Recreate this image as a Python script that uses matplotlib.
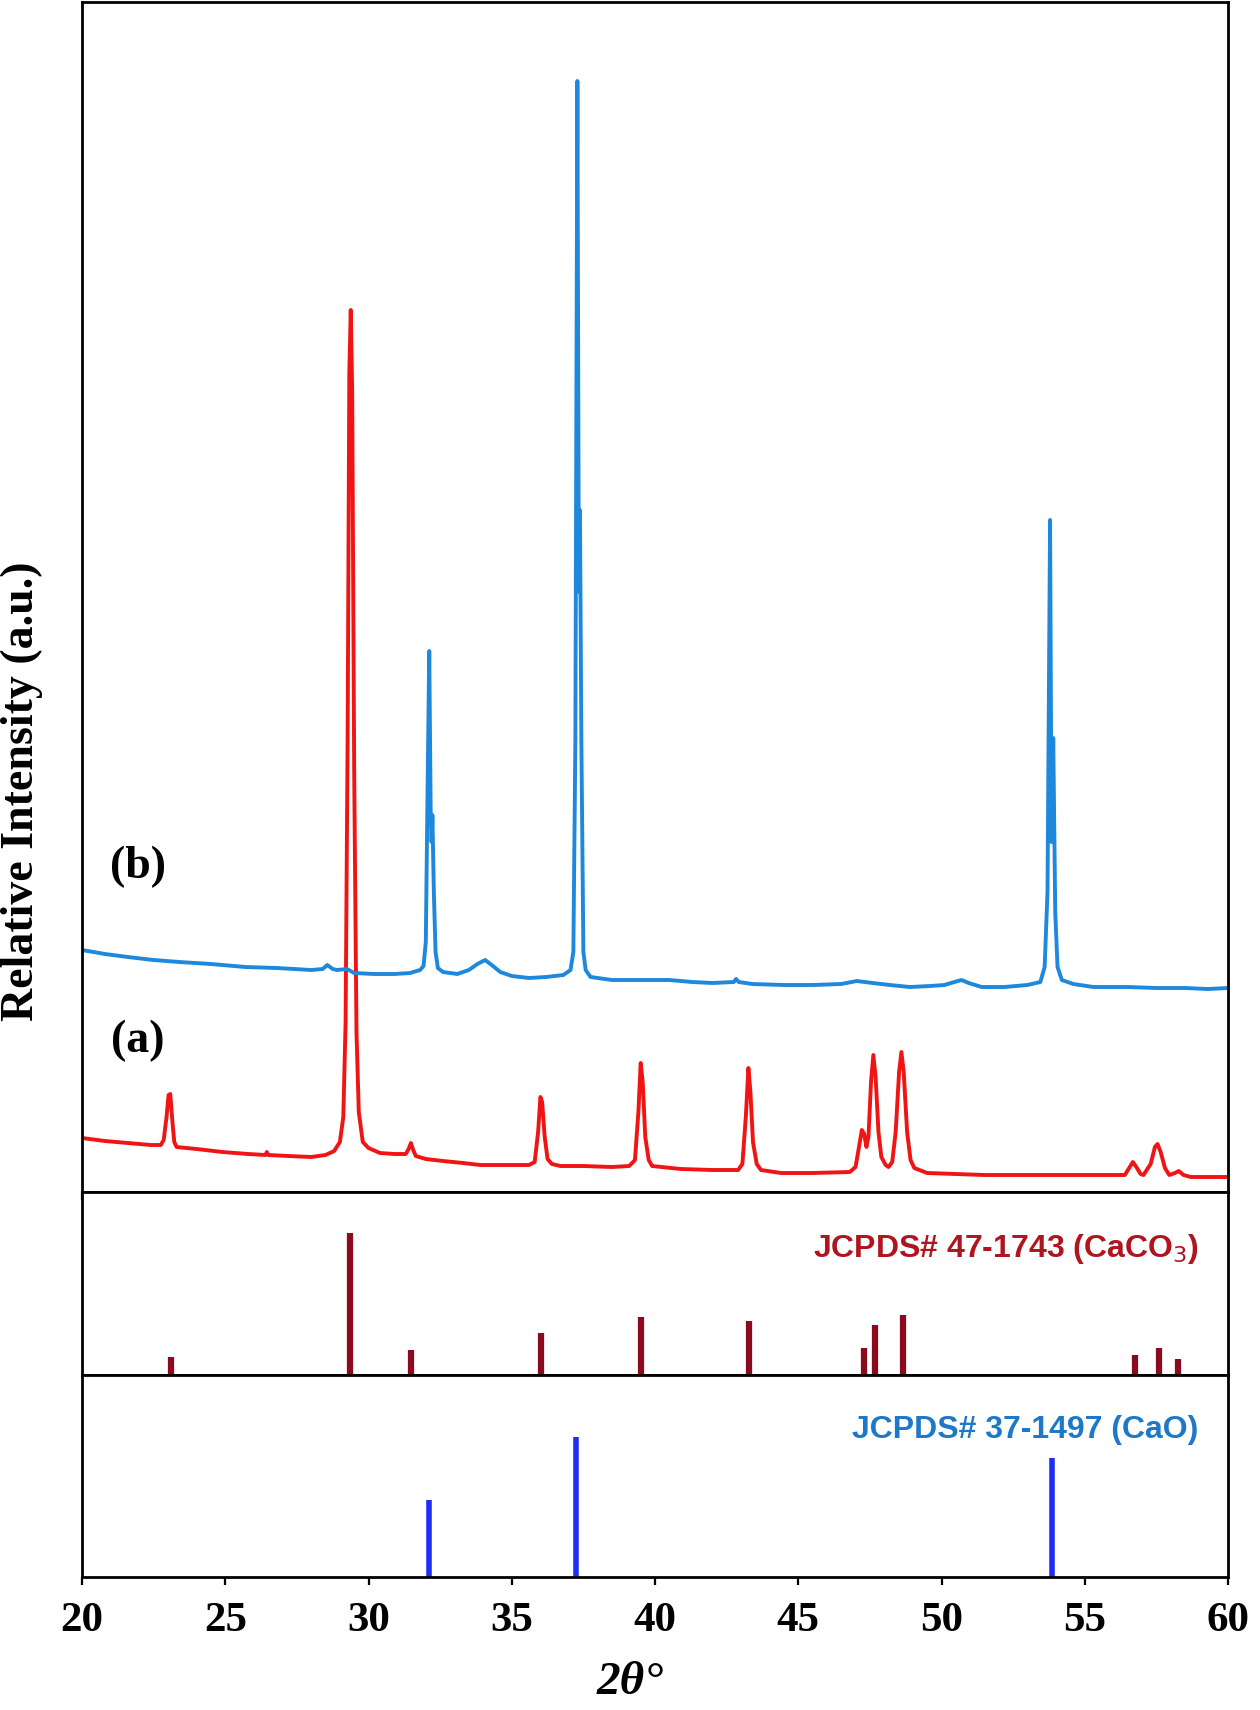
import matplotlib
matplotlib.use("Agg")
import matplotlib.pyplot as plt
from matplotlib import font_manager

# sample (a): CaCO3 pattern (2theta, intensity a.u.)
a_tt = [20.0, 20.8, 21.6, 22.4, 22.75, 22.85, 22.95, 23.02, 23.08, 23.15, 23.22, 23.3,
        24.0, 24.9, 25.8, 26.4, 26.45, 26.5, 27.2, 28.0, 28.5, 28.8, 29.0, 29.12,
        29.2, 29.27, 29.33, 29.38, 29.43, 29.5, 29.58, 29.66, 29.8, 30.0, 30.4, 30.9,
        31.3, 31.4, 31.48, 31.56, 31.65, 32.0, 32.6, 33.3, 33.9, 34.8, 35.6, 35.8,
        35.92, 36.0, 36.06, 36.15, 36.25, 36.4, 36.7, 37.5, 38.5, 39.1, 39.3, 39.42,
        39.5, 39.57, 39.66, 39.78, 39.9, 40.9, 42.0, 42.9, 43.05, 43.17, 43.26, 43.33,
        43.42, 43.55, 43.7, 44.4, 45.5, 46.8, 47.0, 47.12, 47.22, 47.3, 47.38, 47.45,
        47.54, 47.62, 47.7, 47.8, 47.9, 48.05, 48.15, 48.28, 48.4, 48.52, 48.6, 48.68,
        48.8, 48.92, 49.05, 49.5, 50.5, 51.5, 52.7, 54.0, 55.2, 56.4, 56.55, 56.68,
        56.8, 56.95, 57.05, 57.3, 57.45, 57.54, 57.65, 57.8, 57.95, 58.15, 58.28, 58.45,
        58.7, 59.4, 60.0]
a_int = [54, 51, 49, 47, 47, 52, 75, 97, 98, 72, 50, 45,
         43, 40, 38, 37, 40, 37, 36, 35, 37, 41, 50, 75,
         170, 450, 820, 882, 800, 420, 160, 80, 50, 44, 39, 38,
         38, 43, 49, 42, 36, 33, 31, 29, 27, 27, 27, 30,
         60, 95, 90, 55, 33, 28, 26, 26, 25, 26, 32, 80,
         129, 110, 55, 32, 26, 23, 22, 22, 28, 75, 124, 100,
         50, 28, 22, 19, 19, 20, 25, 45, 62, 58, 45, 55,
         110, 137, 115, 60, 35, 27, 25, 30, 60, 120, 140, 120,
         60, 32, 24, 19, 18, 17, 17, 17, 17, 17, 24, 30,
         25, 18, 17, 28, 45, 48, 40, 24, 17, 19, 21, 17,
         15, 15, 15]

# sample (b): CaO pattern
b_tt = [20.0, 20.8, 21.6, 22.5, 23.4, 24.5, 25.7, 26.8, 28.0, 28.4, 28.56, 28.75,
        28.9, 29.25, 29.5, 30.2, 30.9, 31.45, 31.8, 31.92, 32.0, 32.06, 32.12, 32.17,
        32.2, 32.23, 32.28, 32.34, 32.42, 32.6, 33.1, 33.5, 33.8, 34.07, 34.3, 34.6,
        35.0, 35.6, 36.2, 36.8, 37.05, 37.15, 37.22, 37.29, 37.34, 37.36, 37.38, 37.43,
        37.5, 37.58, 37.75, 38.5, 39.5, 40.5, 41.3, 42.0, 42.75, 42.83, 42.92, 43.4,
        44.5, 45.5, 46.5, 47.04, 47.6, 48.2, 48.9, 49.6, 50.1, 50.45, 50.7, 50.95,
        51.4, 52.2, 53.0, 53.45, 53.6, 53.7, 53.79, 53.84, 53.9, 53.97, 54.05, 54.2,
        54.6, 55.3, 56.5, 57.5, 58.5, 59.3, 60.0]
b_int = [242, 238, 235, 232, 230, 228, 225, 224, 222, 223, 227, 223,
         222, 223, 219, 218, 218, 219, 222, 226, 250, 400, 541, 380,
         350, 377, 300, 240, 224, 220, 218, 222, 228, 232, 227, 220,
         216, 214, 215, 217, 222, 240, 450, 1111, 620, 600, 682, 450,
         240, 222, 215, 212, 212, 212, 210, 209, 210, 213, 210, 208,
         207, 207, 208, 211, 209, 207, 205, 206, 207, 210, 212, 209,
         205, 205, 207, 210, 225, 300, 672, 350, 454, 280, 225, 212,
         208, 205, 205, 204, 204, 203, 204]

# reference cards
caco3_pos = [23.12, 29.37, 31.47, 36.02, 39.52, 43.28, 47.28, 47.67, 48.67, 56.74, 57.58, 58.27]
caco3_rel = [12.7, 100, 18, 30, 40.7, 38.4, 19.4, 35.5, 42.1, 14, 19.4, 11.4]
cao_pos = [32.12, 37.25, 53.86]
cao_rel = [55.2, 100, 85.1]

xticks = [20, 25, 30, 35, 40, 45, 50, 55, 60]

serif = ["Liberation Serif", "DejaVu Serif"]
names = {f.name for f in font_manager.fontManager.ttflist}
narrow = "Liberation Sans Narrow" if "Liberation Sans Narrow" in names else "Liberation Sans"

fig = plt.figure(figsize=(12.6, 17.1), dpi=100)
L, W = 0.0651, 0.9095
ax = fig.add_axes([L, 0.30292, W, 0.69591])
ax1 = fig.add_axes([L, 0.19591, W, 0.10702])
ax2 = fig.add_axes([L, 0.07778, W, 0.11813])

ax.plot(a_tt, a_int, color="#f01414", lw=2.8)
ax.plot(b_tt, b_int, color="#1e88dc", lw=2.8)
ax.set_ylim(0, 1190)
ax.text(21.93, 151, "(a)", family=serif, weight="bold", fontsize=33, ha="center", va="center")
ax.text(21.95, 325, "(b)", family=serif, weight="bold", fontsize=33, ha="center", va="center")

ax1.vlines(caco3_pos, 0, caco3_rel, color="#8b0a1e", lw=4.5)
ax1.set_ylim(0, 129.3)
ax1.text(59.0, 0.69, "JCPDS# 47-1743 (CaCO$_3$)", transform=ax1.get_xaxis_transform(),
         family=narrow, weight="bold", fontsize=23, color="#b0141e", ha="right", va="center")

ax2.vlines(cao_pos, 0, cao_rel, color="#1f2ef5", lw=4.0)
ax2.set_ylim(0, 144.5)
ax2.text(58.95, 0.73, "JCPDS# 37-1497 (CaO)", transform=ax2.get_xaxis_transform(),
         family=narrow, weight="bold", fontsize=23, color="#1e78c8", ha="right", va="center")

for a in (ax, ax1, ax2):
    a.set_xlim(20, 60)
    a.set_yticks([])
    for s in a.spines.values():
        s.set_linewidth(2)
    a.set_xticks(xticks)
    a.tick_params(axis="x", direction="out", width=1.6, length=6)

ax.tick_params(axis="x", labelbottom=False)
ax1.tick_params(axis="x", length=0, labelbottom=False)
ax2.set_xticklabels([str(t) for t in xticks], family=serif, weight="bold", fontsize=31)
ax2.tick_params(axis="x", pad=12)

fig.text(0.5, 0.016, "2θ°", family=serif, weight="bold", style="italic",
         fontsize=34, ha="center", va="center")
fig.text(0.0175, 0.537, "Relative Intensity (a.u.)", family=serif, weight="bold",
         fontsize=33, rotation=90, ha="center", va="center")

fig.savefig("out.png", dpi=100)
